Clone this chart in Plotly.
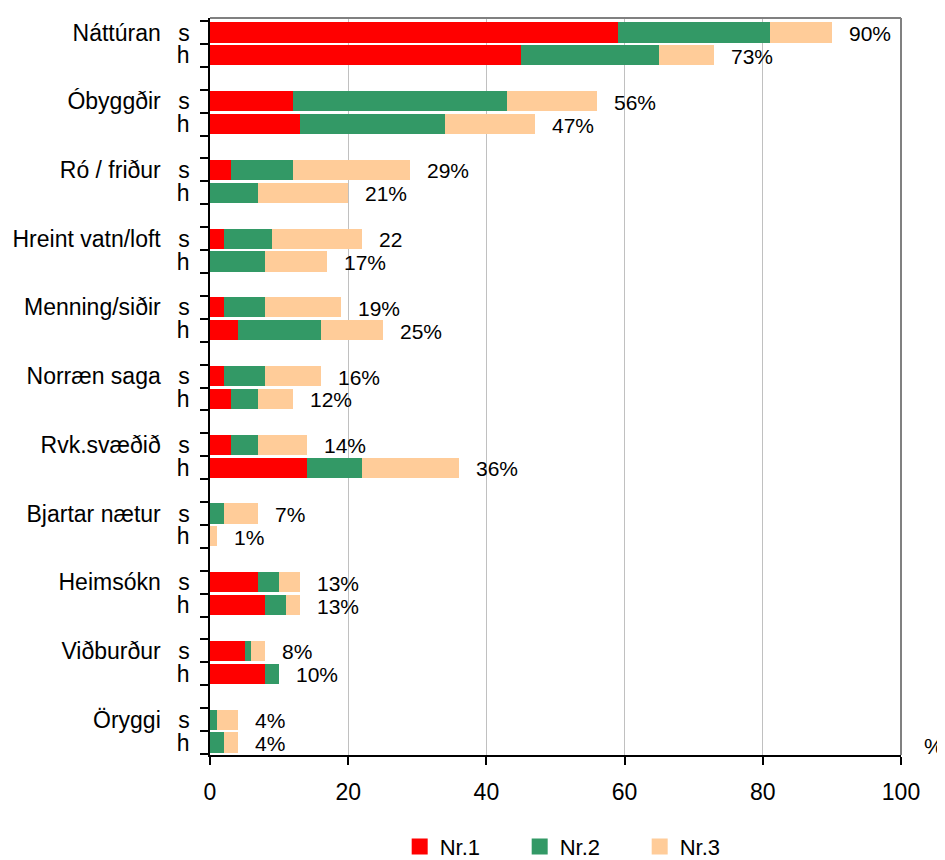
import plotly.graph_objects as go

groups = ["Náttúran", "Óbyggðir", "Ró / friður", "Hreint vatn/loft", "Menning/siðir",
          "Norræn saga", "Rvk.svæðið", "Bjartar nætur", "Heimsókn", "Viðburður", "Öryggi"]
sub = ["s", "h"]

# values per group: [s, h]
nr1 = [[59, 45], [12, 13], [3, 0], [2, 0], [2, 4], [2, 3], [3, 14], [0, 0], [7, 8], [5, 8], [0, 0]]
nr2 = [[22, 20], [31, 21], [9, 7], [7, 8], [6, 12], [6, 4], [4, 8], [2, 0], [3, 3], [1, 2], [1, 2]]
nr3 = [[9, 8], [13, 13], [17, 13], [13, 9], [11, 9], [8, 5], [7, 14], [5, 1], [3, 2], [2, 0], [3, 2]]
labels = [["90%", "73%"], ["56%", "47%"], ["29%", "21%"], ["22", "17%"], ["19%", "25%"],
          ["16%", "12%"], ["14%", "36%"], ["7%", "1%"], ["13%", "13%"], ["8%", "10%"], ["4%", "4%"]]

series_names = ["Nr.1", "Nr.2", "Nr.3"]
colors = ["#FF0000", "#339966", "#FFCC99"]

# build rows: s, h, gap
cats, ticktext = [], []
v1, v2, v3, totals, texts = [], [], [], [], []
for gi, g in enumerate(groups):
    for si, s in enumerate(sub):
        cats.append(f"{g}|{s}")
        ticktext.append(f"{g}\u00a0\u00a0\u2009{s}" if si == 0 else s)
        v1.append(nr1[gi][si]); v2.append(nr2[gi][si]); v3.append(nr3[gi][si])
        totals.append(nr1[gi][si] + nr2[gi][si] + nr3[gi][si])
        texts.append(labels[gi][si])
    if gi < len(groups) - 1:
        cats.append(f"gap{gi}")
        ticktext.append("")
        v1.append(None); v2.append(None); v3.append(None)
        totals.append(None); texts.append(None)

fig = go.Figure()
for name, vals, col in zip(series_names, [v1, v2, v3], colors):
    fig.add_trace(go.Bar(x=vals, y=cats, orientation="h", name=name,
                         marker=dict(color=col, line=dict(width=0)),
                         showlegend=False, hoverinfo="skip"))
# legend entries with larger square swatches
for name, col in zip(series_names, colors):
    fig.add_trace(go.Scatter(x=[None], y=[None], mode="markers", name=name,
                             marker=dict(symbol="square", size=18, color=col)))

for c, t, txt in zip(cats, totals, texts):
    if txt is None:
        continue
    fig.add_annotation(x=t, y=c, text=txt, showarrow=False, xanchor="left",
                       xshift=15, yshift=-1, font=dict(size=21, color="#000000"))

fig.add_annotation(xref="paper", yref="paper", x=1.048, y=0.012, text="%",
                   showarrow=False, xanchor="center", yanchor="middle",
                   font=dict(size=22, color="#000000"))

# top and right borders (gray)
fig.add_shape(type="line", xref="paper", yref="paper", x0=0, x1=1, y0=1, y1=1,
              line=dict(color="#808080", width=2))
fig.add_shape(type="line", xref="paper", yref="paper", x0=1, x1=1, y0=0, y1=1,
              line=dict(color="#808080", width=2))

# the page body adds an 8px offset, so the figure is 8px smaller on each side
fig.update_layout(
    width=937, height=852,
    margin=dict(l=202, r=44, t=10, b=105, autoexpand=False),
    paper_bgcolor="white", plot_bgcolor="white",
    barmode="stack", bargap=0.12,
    font=dict(family="Liberation Sans, Arial, sans-serif", color="#000000"),
    xaxis=dict(range=[0, 100], dtick=20, tick0=0, showgrid=True, gridcolor="#C0C0C0",
               gridwidth=1, showline=True, linecolor="#000000", linewidth=1.5,
               ticks="outside", ticklen=8, tickcolor="#000000", tickwidth=1.5,
               tickfont=dict(size=23), zeroline=False, ticklabelstandoff=8,
               automargin=False),
    yaxis=dict(type="category", categoryorder="array", categoryarray=cats,
               autorange="reversed", tickmode="array", tickvals=cats, ticktext=ticktext,
               tickson="boundaries", ticks="outside", ticklen=8, tickcolor="#000000",
               tickwidth=1.5, showline=True, linecolor="#000000", linewidth=1.5,
               showgrid=False, tickfont=dict(size=23), ticklabelstandoff=14,
               automargin=False),
    legend=dict(orientation="h", x=0.535, xanchor="center", yref="container",
                y=0.0155, yanchor="middle", traceorder="normal",
                font=dict(size=22), entrywidth=75, entrywidthmode="pixels",
                itemclick=False),
)

fig.write_html("out.html")
